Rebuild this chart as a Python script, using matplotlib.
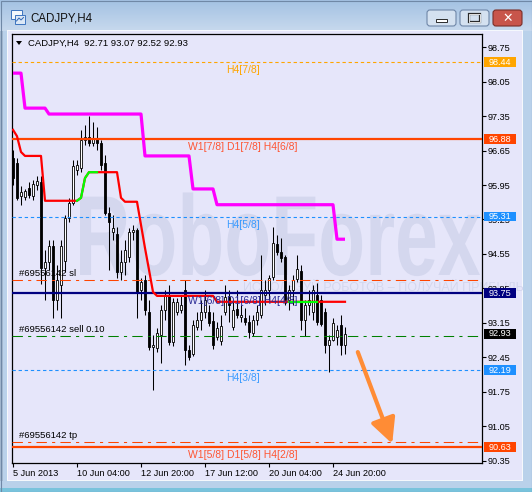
import matplotlib
matplotlib.use("Agg")
import numpy as np
import matplotlib.pyplot as plt
from matplotlib.patches import Rectangle, FancyBboxPatch, PathPatch, Polygon
from matplotlib.textpath import TextPath
from matplotlib.font_manager import FontProperties
from matplotlib.transforms import Affine2D, IdentityTransform, blended_transform_factory

plt.rcParams['font.family'] = ['Liberation Sans', 'DejaVu Sans']

# ---------------- data ----------------
symbol = "CADJPY,H4"

opens = [96.50, 96.40, 95.73, 95.71, 95.89, 95.73, 95.95, 96.01, 94.27, 94.39,
         94.71, 93.62, 93.92, 94.40, 95.28, 95.59, 96.25, 96.30, 96.86, 96.92,
         96.80, 96.88, 96.80, 96.40, 95.38, 95.00, 94.95, 94.19, 94.39, 94.49,
         95.00, 95.04, 93.82, 94.02, 93.37, 92.66, 92.64, 92.91, 93.42, 93.72,
         92.77, 93.37, 93.42, 93.82, 92.60, 92.52, 93.07, 93.21, 93.37, 93.37,
         93.19, 92.87, 92.79, 93.37, 93.68, 93.07, 93.44, 93.27, 93.25, 93.17,
         92.95, 93.21, 93.31, 93.72, 93.82, 94.08, 94.75, 94.59, 94.49, 93.62,
         93.82, 94.04, 94.21, 93.21, 93.52, 93.37, 93.72, 93.62, 93.37, 92.71,
         92.81, 92.87, 93.11, 92.71]
highs = [96.66, 96.50, 95.93, 95.87, 96.01, 96.05, 96.13, 96.13, 94.63, 94.83,
         94.83, 94.33, 94.83, 95.34, 95.69, 96.46, 96.46, 97.07, 97.17, 97.35,
         97.23, 97.13, 96.86, 96.56, 95.50, 95.34, 95.10, 94.63, 94.83, 95.08,
         95.14, 95.08, 94.06, 94.12, 93.62, 92.91, 93.05, 93.52, 93.82, 93.92,
         93.66, 93.66, 93.72, 94.02, 92.71, 93.21, 93.37, 93.62, 93.82, 93.52,
         93.37, 93.17, 93.31, 93.92, 93.82, 93.62, 93.82, 93.52, 93.46, 93.31,
         93.31, 93.52, 94.53, 94.02, 94.12, 95.10, 94.94, 94.88, 94.53, 93.92,
         94.12, 94.53, 94.33, 93.62, 93.82, 93.92, 93.96, 93.72, 93.46, 92.91,
         93.25, 93.11, 93.31, 93.07]
lows = [95.95, 95.65, 95.54, 95.65, 95.69, 95.65, 95.85, 93.94, 93.62, 94.23,
        93.25, 93.42, 93.25, 94.19, 95.20, 95.54, 96.15, 96.21, 96.76, 96.74,
        96.74, 96.66, 96.25, 95.34, 94.23, 94.83, 94.06, 94.02, 94.12, 94.39,
        94.83, 93.25, 93.62, 93.31, 92.60, 91.79, 92.56, 92.34, 93.21, 92.71,
        92.68, 93.31, 93.35, 92.30, 92.40, 92.48, 93.01, 93.01, 93.25, 93.09,
        92.62, 92.81, 92.71, 93.31, 93.17, 93.01, 93.25, 93.17, 93.11, 92.85,
        92.89, 93.11, 93.25, 93.52, 93.62, 94.02, 94.53, 94.39, 93.52, 93.42,
        93.52, 93.98, 93.01, 92.89, 93.31, 93.21, 93.11, 93.09, 92.54, 92.16,
        92.79, 92.71, 92.50, 92.52]
closes = [96.09, 95.69, 95.81, 95.83, 95.75, 95.97, 96.03, 94.27, 94.39, 94.71,
          93.62, 94.02, 94.71, 95.28, 95.59, 96.34, 96.36, 96.86, 96.92, 96.80,
          96.88, 96.80, 96.36, 95.38, 95.20, 95.08, 94.19, 94.39, 94.63, 95.00,
          95.04, 93.78, 93.98, 93.42, 92.66, 92.71, 92.95, 93.42, 93.72, 92.77,
          93.58, 93.58, 93.52, 92.60, 92.46, 93.11, 93.21, 93.37, 93.62, 93.15,
          92.71, 93.05, 93.09, 93.68, 93.52, 93.42, 93.31, 93.31, 93.17, 92.97,
          93.21, 93.37, 93.82, 93.82, 94.06, 94.77, 94.59, 94.47, 93.62, 93.82,
          94.02, 94.25, 93.21, 93.52, 93.62, 93.82, 93.17, 93.13, 92.71, 92.81,
          93.15, 93.01, 92.71, 92.93]

# step trend indicator (magenta)
trend_line = [98.22, 98.22, 98.22, 97.51, 97.51, 97.51, 97.51, 97.51, 97.51, 97.39,
              97.39, 97.39, 97.39, 97.39, 97.39, 97.39, 97.39, 97.39, 97.39, 97.39,
              97.39, 97.39, 97.39, 97.39, 97.39, 97.39, 97.39, 97.39, 97.39, 97.39,
              97.39, 97.39, 97.39, 96.54, 96.54, 96.54, 96.54, 96.54, 96.54, 96.54,
              96.54, 96.54, 96.54, 96.54, 96.54, 95.87, 95.87, 95.87, 95.87, 95.87,
              95.87, 95.55, 95.55, 95.55, 95.55, 95.55, 95.55, 95.55, 95.55, 95.55,
              95.55, 95.55, 95.55, 95.55, 95.55, 95.55, 95.55, 95.55, 95.55, 95.55,
              95.55, 95.55, 95.55, 95.55, 95.55, 95.55, 95.55, 95.55, 95.55, 95.55,
              95.55, 94.85, 94.85, 94.85]

# trailing stop indicator (red, green while rising)
stop_line = [97.07, 96.94, 96.62, 96.54, 96.54, 96.54, 96.54, 96.54, 95.63, 95.63,
             95.63, 95.63, 95.63, 95.63, 95.63, 95.63, 95.63, 95.69, 96.09, 96.21,
             96.21, 96.21, 96.21, 96.21, 96.21, 96.21, 96.21, 95.69, 95.61, 95.61,
             95.61, 95.61, 95.14, 94.67, 94.23, 93.78, 93.70, 93.70, 93.70, 93.70,
             93.70, 93.70, 93.70, 93.70, 93.70, 93.70, 93.70, 93.70, 93.70, 93.70,
             93.70, 93.58, 93.58, 93.58, 93.58, 93.58, 93.58, 93.58, 93.58, 93.58,
             93.58, 93.58, 93.58, 93.58, 93.58, 93.58, 93.58, 93.58, 93.58, 93.58,
             93.58, 93.58, 93.58, 93.58, 93.58, 93.58, 93.58, 93.58, 93.58, 93.58,
             93.58, 93.58, 93.58, 93.58]
stop_up_ranges = [(16, 21), (69, 76)]

# Murrey-style levels
level_prices = [98.44, 96.88, 95.31, 93.75, 92.19, 90.63]
level_names = ['H4[7/8]', 'W1[7/8] D1[7/8] H4[6/8]', 'H4[5/8]',
               'W1[6/8] D1[6/8] H4[4/8]', 'H4[3/8]', 'W1[5/8] D1[5/8] H4[2/8]']

# open order
order_ticket = "#69556142"
order_sl = 94.02
order_entry = 92.89
order_tp = 90.74
order_lots = 0.10

price_ticks = [98.75, 98.05, 97.35, 96.65, 95.95, 95.25, 94.55, 93.85,
               93.15, 92.45, 91.75, 91.05, 90.35]
time_tick_bars = [0, 16, 32, 48, 64, 80]
time_tick_labels = ['5 Jun 2013', '10 Jun 04:00', '12 Jun 20:00',
                    '17 Jun 12:00', '20 Jun 04:00', '24 Jun 20:00']

forecast_from = (86.2, 92.56)
forecast_to = (94.8, 90.70)

# ---------------- styles ----------------
BG = '#E6E6FA'
WATERMARK = '#D4D7EE'
level_styles = [
    dict(color='#FFA500', ls=(0, (3, 2.5)), lw=0.8, text='#FFA500'),
    dict(color='#FF4500', ls='-', lw=1.6, text='#FF5533'),
    dict(color='#1E90FF', ls=(0, (3, 2.5)), lw=0.8, text='#3D9CFF'),
    dict(color='#000080', ls='-', lw=1.6, text='#2A2A95'),
    dict(color='#1E90FF', ls=(0, (3, 2.5)), lw=0.8, text='#3D9CFF'),
    dict(color='#FF4500', ls='-', lw=1.6, text='#FF5533'),
]
DASHDOT = (0, (10, 5, 3, 5))

W, H = 532, 492
fig = plt.figure(figsize=(W / 100, H / 100), dpi=100)
fig.patch.set_facecolor('#B9D1EA')

# ---------------- window frame ----------------
chrome = fig.add_axes([0, 0, 1, 1])
chrome.axis('off')
g = np.linspace(0, 1, 31)[:, None, None]
top_c = np.array([0.64, 0.76, 0.89])
bot_c = np.array([0.78, 0.85, 0.93])
chrome.imshow(top_c * (1 - g) + bot_c * g, extent=[0, W, 31, 0],
              aspect='auto', interpolation='bilinear', zorder=0)
chrome.add_patch(Rectangle((0, 31), 3, 450, fc='#A3B8D0', ec='none', zorder=1))
chrome.add_patch(Rectangle((7, 30), 516, 451, fc='#F5F8FC', ec='none', zorder=1))
chrome.add_patch(Rectangle((8, 31), 514, 449, fc=BG, ec='none', zorder=1.1))
chrome.add_patch(Rectangle((0, 488), W, 4, fc='#79C3DC', ec='none', zorder=1))
chrome.add_patch(Rectangle((0.5, 0.5), W - 1, H - 1, fc='none', ec='#6F88A6',
                           lw=0.8, zorder=2))
# icon
chrome.add_patch(Rectangle((11, 10), 11, 9, fc='#F4F8FC', ec='#3D74BF', lw=0.7, zorder=2))
chrome.add_patch(Rectangle((15, 15), 10, 9, fc='#DCE8F6', ec='#3D74BF', lw=0.7, zorder=2.1))
chrome.plot([16.5, 19, 21, 23.5], [21, 18, 20, 17.5], color='#2F66B3', lw=0.7, zorder=2.2)
chrome.text(30, 18.5, symbol, fontsize=8.3, va='center', ha='left', color='#111111', zorder=3)


def caption_button(x, w, face, edge):
    chrome.add_patch(FancyBboxPatch((x, 10), w, 16,
                                    boxstyle='round,pad=0,rounding_size=3',
                                    fc=face, ec=edge, lw=0.8, zorder=2))


caption_button(427, 29, '#D4E1F0', '#6F87A8')
caption_button(460, 29, '#D4E1F0', '#6F87A8')
caption_button(493, 29, '#C8554B', '#7A2E28')
chrome.add_patch(Rectangle((436, 18.5), 11, 3.5, fc='white', ec='#2B2B2B', lw=0.7, zorder=3))
chrome.add_patch(Rectangle((469, 13.5), 11, 8.5, fc='none', ec='#2B2B2B', lw=1.6, zorder=3))
chrome.add_patch(Rectangle((469, 13.5), 11, 8.5, fc='none', ec='white', lw=0.6, zorder=3.1))
chrome.text(507.5, 18.5, '✕', fontsize=9, fontweight='bold', color='white',
            ha='center', va='center', family=['DejaVu Sans'], zorder=3)
chrome.set_xlim(0, W)
chrome.set_ylim(H, 0)

# ---------------- chart ----------------
ax = fig.add_axes([12 / W, (H - 463) / H, 470 / W, 429 / H])
ax.set_facecolor(BG)
ax.set_xlim(-0.25, 117.25)
ax.set_ylim(90.309, 99.014)
for sp in ax.spines.values():
    sp.set_color('black')
    sp.set_linewidth(0.9)

# watermark
wm_font = FontProperties(family='Liberation Sans', weight='bold')
wm_path = TextPath((0, 0), "RoboForex", size=100, prop=wm_font)
bb = wm_path.get_extents()
wm_tr = Affine2D().translate(-bb.x0, 0).scale(400 / bb.width, 82 / 72.0).translate(80, H - 275)
ax.add_patch(PathPatch(wm_tr.transform_path(wm_path), transform=IdentityTransform(),
                       fc=WATERMARK, ec='none', zorder=0.5))
t = ax.text(243, H - 291, "ИСПОЛЬЗУЙ РОБОТОВ – ПОЛУЧАЙ ПРИБЫЛЬ",
            transform=IdentityTransform(), fontsize=9, color=WATERMARK,
            va='baseline', ha='left', zorder=0.5)
t.set_clip_box(ax.bbox)

# candles
idx = np.arange(len(opens))
o, h, l, c = (np.array(v) for v in (opens, highs, lows, closes))
ax.vlines(idx, l, h, color='black', lw=0.75, zorder=3)
bull = c >= o
body_lo = np.minimum(o, c)
body_h = np.maximum(np.abs(c - o), 0.015)
ax.bar(idx, body_h, bottom=body_lo, width=0.6,
       color=np.where(bull, 'white', 'black'), edgecolor='black',
       linewidth=0.6, zorder=4)

# levels
for price, name, st in zip(level_prices, level_names, level_styles):
    ax.axhline(price, color=st['color'], ls=st['ls'], lw=st['lw'], zorder=5)
    ax.annotate(name, xy=(57.5, price), xytext=(0, -2.2), textcoords='offset points',
                ha='center', va='top', fontsize=7.5, color=st['text'], zorder=7)

# order lines
order_lines = [(order_sl, '#FF4500', f"{order_ticket} sl"),
               (order_entry, '#008000', f"{order_ticket} sell {order_lots:.2f}"),
               (order_tp, '#FF4500', f"{order_ticket} tp")]
for price, col, label in order_lines:
    ax.axhline(price, color=col, ls=DASHDOT, lw=0.75, zorder=5)
    ax.annotate(label, xy=(1.5, price), xytext=(0, 1.2), textcoords='offset points',
                ha='left', va='bottom', fontsize=6.8, color='black', zorder=7)

# indicators
ax.plot(idx, trend_line, color='#FF00FF', lw=2.3, zorder=6, solid_capstyle='butt')
ax.plot(idx, stop_line, color='#FF0000', lw=1.6, zorder=6)
sl_arr = np.array(stop_line)
for a, b in stop_up_ranges:
    ax.plot(idx[a:b + 1], sl_arr[a:b + 1], color='#00FF00', lw=1.6, zorder=6.1)

# forecast arrow
ax.annotate('', xy=forecast_to, xytext=forecast_from,
            arrowprops=dict(arrowstyle='-|>', color='#FF8C35', lw=3,
                            mutation_scale=38, shrinkA=0, shrinkB=0),
            zorder=8)

# header
ax.add_patch(Polygon([(16, H - 41), (22, H - 41), (19, H - 45)], closed=True,
                     transform=IdentityTransform(), fc='black', ec='none', zorder=9))
ax.text(28, H - 43.5, f"{symbol}  {opens[-1]:.2f} {highs[-1]:.2f} {lows[-1]:.2f} {closes[-1]:.2f}",
        transform=IdentityTransform(), fontsize=6.8, va='center', ha='left',
        color='black', zorder=9)

# axes ticks
ax.yaxis.tick_right()
ax.set_yticks(price_ticks)
ax.set_yticklabels([f"{p:.2f}" for p in price_ticks])
ax.set_xticks(time_tick_bars)
ax.set_xticklabels(time_tick_labels, ha='left')
ax.tick_params(axis='both', direction='out', length=2.6, width=0.8, color='black',
               labelsize=6.6, pad=1.5, labelcolor='black')

# price tags on the scale
box_tr = blended_transform_factory(ax.transAxes, ax.transData)
tags = [(level_prices[0], '#FFA500'), (level_prices[1], '#FF4500'),
        (level_prices[2], '#1E90FF'), (level_prices[3], '#000080'),
        (closes[-1], '#000000'), (level_prices[4], '#1E90FF'),
        (level_prices[5], '#FF4500')]
bx0 = (484 - 12) / 470
bw = 32 / 470
for price, face in tags:
    ax.add_patch(Rectangle((bx0, price - 0.1), bw, 0.2, transform=box_tr,
                           fc=face, ec='none', clip_on=False, zorder=10))
    ax.text(bx0 + bw / 2, price, f"{price:.2f}", transform=box_tr, ha='center',
            va='center', fontsize=6.6, color='white', zorder=11, clip_on=False)

fig.savefig('out.png', dpi=100, facecolor=fig.get_facecolor())
